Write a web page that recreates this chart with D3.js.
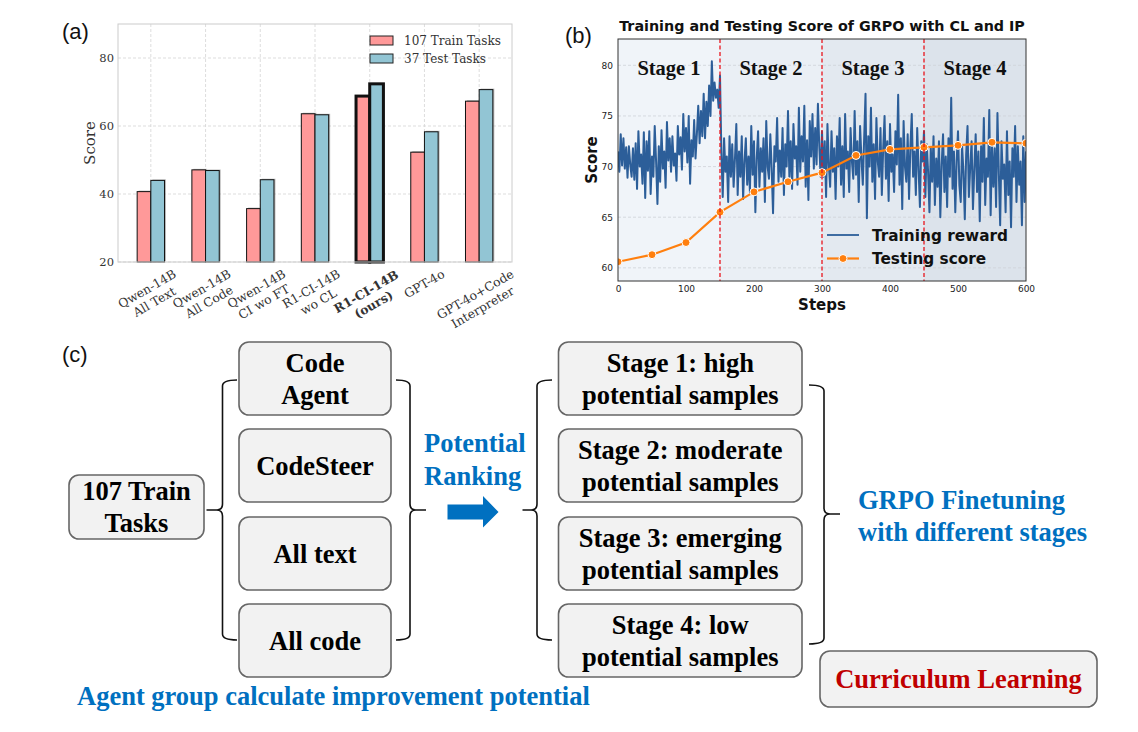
<!doctype html>
<html lang="en">
<head>
<meta charset="utf-8">
<title>R1-CI-14B: scores, GRPO training and curriculum</title>
<style>
html, body {
	margin: 0;
	padding: 0;
	background: #fff;
	overflow: hidden;
}
svg { display: block; }
.serif { font-family: 'DejaVu Serif', serif; }
.sans { font-family: 'DejaVu Sans', sans-serif; }
.times { font-family: 'Liberation Serif', 'Times New Roman', serif; font-weight: bold; }
.panel-tag { font-family: 'Liberation Sans', Arial, sans-serif; font-size: 22px; fill: #111; }
</style>
</head>
<body>
<div id="figure"></div>
<script src="https://cdnjs.cloudflare.com/ajax/libs/d3/7.8.5/d3.min.js"></script>
<script>
/* DATA (a) */
var categories = [
	['Qwen-14B', 'All Text'],
	['Qwen-14B', 'All Code'],
	['Qwen-14B', 'CI wo FT'],
	['R1-CI-14B', 'wo CL'],
	['R1-CI-14B', '(ours)'],
	['GPT-4o'],
	['GPT-4o+Code', 'Interpreter']
];
var trainScores = [40.7, 47.1, 35.7, 63.6, 68.8, 52.3, 67.3];
var testScores = [44.0, 46.9, 44.2, 63.3, 72.4, 58.3, 70.7];
var seriesNames = ['107 Train Tasks', '37 Test Tasks'];
var scoreTicks = [20, 40, 60, 80];
var oursIndex = 4;

/* DATA (b) */
var stageNames = ['Stage 1', 'Stage 2', 'Stage 3', 'Stage 4'];
var stageBounds = [0, 150, 300, 450, 600];
var testSteps = [0, 50, 100, 150, 200, 250, 300, 350, 400, 450, 500, 550, 600];
var testValues = [60.6, 61.3, 62.5, 65.5, 67.5, 68.5, 69.4, 71.1, 71.7, 71.9, 72.1, 72.4, 72.3];
var rewardStep = 2;
var rewardValues = [
	// steps 0..148
	71.5, 69.5, 73.2, 70.1, 72.8, 69.8, 71.9, 68.9, 72.0, 70.2,
	69.0, 71.8, 68.7, 72.3, 67.8, 73.5, 70.0, 71.2, 68.3, 73.4,
	66.9, 72.5, 69.6, 73.5, 67.3, 71.0, 69.0, 74.0, 70.5, 66.3,
	72.0, 68.5, 73.6, 69.8, 71.5, 67.9, 74.4, 70.6, 72.8, 69.5,
	73.0, 70.1, 71.3, 68.6, 74.0, 71.2, 72.9, 69.7, 75.2, 71.5,
	73.8, 70.4, 75.0, 68.3, 72.6, 71.0, 74.6, 70.8, 73.2, 76.0,
	72.3, 75.5, 73.0, 77.2, 72.8, 76.4, 74.0, 78.0, 75.0, 80.4,
	76.5, 78.3, 76.8, 77.6, 75.8,
	// step 150
	79.0,
	// steps 152..298
	71.5, 67.0, 72.8, 69.5, 71.0, 66.5, 73.0, 69.0, 72.2, 68.0,
	70.8, 74.2, 67.2, 71.5, 69.0, 73.0, 66.8, 70.5, 72.8, 68.2,
	71.0, 67.5, 74.0, 69.2, 72.5, 65.5, 70.8, 73.5, 68.0, 71.8,
	69.5, 72.8, 66.5, 74.5, 70.0, 68.8, 73.2, 69.8, 65.4, 72.0,
	70.5, 74.8, 68.5, 71.6, 69.0, 73.8, 67.2, 72.2, 70.0, 75.5,
	69.0, 72.5, 67.8, 74.2, 70.8, 72.0, 68.2, 75.8, 69.5, 73.0,
	70.5, 76.0, 68.0, 72.6, 66.7, 74.5, 71.0, 75.2, 69.8, 73.8,
	70.2, 76.2, 72.0, 69.0,
	// step 300
	73.5,
	// steps 302..448
	69.0, 72.5, 67.0, 74.2, 70.2, 68.0, 73.5, 69.5, 71.8, 66.8,
	73.0, 70.0, 74.8, 68.2, 72.0, 67.0, 75.2, 69.8, 71.5, 67.5,
	73.8, 70.5, 68.8, 75.5, 69.2, 72.5, 66.5, 74.0, 70.8, 68.2,
	72.8, 77.2, 64.9, 73.0, 70.0, 75.8, 68.5, 72.2, 66.8, 74.8,
	70.5, 69.0, 73.8, 67.2, 71.8, 75.0, 68.8, 72.5, 66.6, 74.2,
	69.5, 71.2, 67.5, 73.5, 70.2, 77.1, 68.2, 72.8, 65.8, 74.5,
	70.0, 68.5, 73.2, 66.8, 72.0, 75.2, 69.0, 71.5, 67.2, 73.8,
	69.8, 66.0, 72.5, 70.5,
	// step 450
	73.5,
	// steps 452..600
	67.0, 72.2, 69.5, 65.5, 71.8, 68.5, 73.0, 66.2, 70.8, 68.0,
	72.5, 65.0, 70.2, 73.2, 67.5, 71.0, 66.0, 72.8, 69.0, 76.8,
	67.8, 71.5, 65.5, 70.5, 73.5, 68.2, 66.5, 72.0, 69.5, 64.8,
	71.2, 74.0, 67.0, 70.0, 72.5, 65.8, 69.8, 73.2, 67.5, 71.5,
	64.6, 72.0, 68.5, 74.8, 66.2, 70.8, 69.0, 75.6, 65.2, 72.2,
	68.0, 71.8, 66.0, 75.3, 69.5, 64.2, 72.5, 68.8, 70.2, 65.5,
	73.5, 67.2, 70.5, 64.0, 71.8, 69.0, 74.0, 66.5, 72.0, 68.2,
	70.5, 64.2, 73.0, 66.5, 71.5
];
var stepTicks = [0, 100, 200, 300, 400, 500, 600];
var rewardTicks = [60, 65, 70, 75, 80];
var lineNames = ['Training reward', 'Testing score'];

/* DATA (c) */
var taskLabel = ['107 Train', 'Tasks'];
var agentNames = [['Code', 'Agent'], ['CodeSteer'], ['All text'], ['All code']];
var stageDescs = [
	['Stage 1: high', 'potential samples'],
	['Stage 2: moderate', 'potential samples'],
	['Stage 3: emerging', 'potential samples'],
	['Stage 4: low', 'potential samples']
];
var rankingLabel = ['Potential', 'Ranking'];
var finetuneLabel = ['GRPO Finetuning', 'with different stages'];
var agentCaption = 'Agent group calculate improvement potential';
var curriculumLabel = 'Curriculum Learning';

(function (d3) {
	'use strict';

	var svg = d3.select('#figure').append('svg')
		.attr('width', 1138)
		.attr('height', 732);

	var PINK = '#ff9999';
	var BLUE = '#92c5d4';
	var SKY = '#0070c0';
	var DIAGRAM_FONT = 26.5;

	/* PANEL A */
	var drawBars = function () {
		var left = 118, right = 512, top = 24, bottom = 262;
		var x = d3.scaleLinear().domain([-0.6, 6.6]).range([left, right]);
		var y = d3.scaleLinear().domain([20, 90]).range([bottom, top]);
		var barW = 0.25;
		var g = svg.append('g');

		g.selectAll('line.hgrid').data(scoreTicks).enter().append('line')
			.attr('x1', left).attr('x2', right)
			.attr('y1', function (d) { return y(d); })
			.attr('y2', function (d) { return y(d); })
			.attr('stroke', '#d4d4d4').attr('stroke-width', 0.8)
			.attr('stroke-dasharray', '3,2');
		g.selectAll('line.vgrid').data(categories).enter().append('line')
			.attr('y1', top).attr('y2', bottom)
			.attr('x1', function (d, i) { return x(i); })
			.attr('x2', function (d, i) { return x(i); })
			.attr('stroke', '#d4d4d4').attr('stroke-width', 0.8)
			.attr('stroke-dasharray', '3,2');

		var series = [
			{ values: trainScores, off: -barW, fill: PINK },
			{ values: testScores, off: 0, fill: BLUE }
		];
		series.forEach(function (s) {
			var bars = g.selectAll(null).data(s.values).enter();
			// soft shadow behind each bar
			bars.append('rect')
				.attr('x', function (d, i) { return x(i + s.off) + 1.5; })
				.attr('y', function (d) { return y(d) - 1; })
				.attr('width', x(barW) - x(0))
				.attr('height', function (d) { return y(20) - y(d); })
				.attr('fill', '#777').attr('opacity', 0.5);
			bars.append('rect')
				.attr('x', function (d, i) { return x(i + s.off); })
				.attr('y', function (d) { return y(d); })
				.attr('width', x(barW) - x(0))
				.attr('height', function (d) { return y(20) - y(d); })
				.attr('fill', s.fill)
				.attr('stroke', '#111')
				.attr('stroke-width', function (d, i) { return i === oursIndex ? 3 : 1; });
		});

		g.append('rect')
			.attr('x', left).attr('y', top)
			.attr('width', right - left).attr('height', bottom - top)
			.attr('fill', 'none').attr('stroke', '#cccccc').attr('stroke-width', 1);

		var yAxis = g.append('g')
			.attr('transform', 'translate(' + left + ',0)')
			.call(d3.axisLeft(y).tickValues(scoreTicks).tickSize(0).tickPadding(4));
		yAxis.select('.domain').remove();
		yAxis.selectAll('text')
			.attr('class', 'serif').attr('font-size', 11.5).attr('fill', '#333');

		g.append('text').attr('class', 'serif')
			.attr('transform', 'translate(95,143) rotate(-90)')
			.attr('text-anchor', 'middle').attr('font-size', 15).attr('fill', '#333')
			.text('Score');

		categories.forEach(function (lines, i) {
			var outer = g.append('g');
			var t = outer.append('text').attr('class', 'serif')
				.attr('transform', 'rotate(-30)')
				.attr('text-anchor', 'middle')
				.attr('font-size', 12.3)
				.attr('font-weight', i === oursIndex ? 'bold' : 'normal')
				.attr('fill', '#333');
			lines.forEach(function (line, k) {
				t.append('tspan').attr('x', 0).attr('dy', k === 0 ? 0 : '1.2em').text(line);
			});
			var bb = outer.node().getBBox();
			outer.attr('transform', 'translate(' + (x(i) - bb.x - bb.width / 2) + ',' + (bottom + 5 - bb.y) + ')');
		});

		var legend = g.append('g');
		[PINK, BLUE].forEach(function (c, k) {
			var cy = 40.5 + k * 18;
			legend.append('rect')
				.attr('x', 370).attr('y', cy - 4.5).attr('width', 23).attr('height', 9)
				.attr('fill', c).attr('stroke', '#222').attr('stroke-width', 1);
			legend.append('text').attr('class', 'serif')
				.attr('x', 404).attr('y', cy + 4)
				.attr('font-size', 12).attr('fill', '#333')
				.text(seriesNames[k]);
		});
	};

	/* PANEL B */
	var drawTraining = function () {
		var left = 618, right = 1026, top = 39, bottom = 281;
		var x = d3.scaleLinear().domain([0, 600]).range([left, right]);
		var y = d3.scaleLinear().domain([58.7, 82.6]).range([bottom, top]);
		var stageFills = ['#f0f4f9', '#eaeff5', '#e3e9f0', '#dce3eb'];
		var g = svg.append('g');

		g.selectAll('rect.stage').data(stageNames).enter().append('rect')
			.attr('x', function (d, i) { return x(stageBounds[i]); })
			.attr('y', top)
			.attr('width', function (d, i) { return x(stageBounds[i + 1]) - x(stageBounds[i]); })
			.attr('height', bottom - top)
			.attr('fill', function (d, i) { return stageFills[i]; });

		g.selectAll('line.hgrid').data(rewardTicks).enter().append('line')
			.attr('x1', left).attr('x2', right)
			.attr('y1', function (d) { return y(d); })
			.attr('y2', function (d) { return y(d); })
			.attr('stroke', '#cfd3d8').attr('stroke-width', 0.8)
			.attr('stroke-dasharray', '3,2');

		svg.append('clipPath').attr('id', 'clipB').append('rect')
			.attr('x', left).attr('y', top).attr('width', right - left).attr('height', bottom - top);
		var plot = g.append('g').attr('clip-path', 'url(#clipB)');

		plot.append('path')
			.datum(rewardValues)
			.attr('d', d3.line()
				.x(function (d, i) { return x(i * rewardStep); })
				.y(function (d) { return y(d); }))
			.attr('fill', 'none').attr('stroke', '#2c5e99').attr('stroke-width', 2)
			.attr('stroke-linejoin', 'round');

		g.selectAll('line.stageline').data(stageBounds.slice(1, 4)).enter().append('line')
			.attr('x1', function (d) { return x(d); })
			.attr('x2', function (d) { return x(d); })
			.attr('y1', top).attr('y2', bottom)
			.attr('stroke', '#e8141c').attr('stroke-width', 1.3)
			.attr('stroke-dasharray', '4,2.5');

		var pts = testSteps.map(function (s, i) { return [s, testValues[i]]; });
		plot.append('path')
			.datum(pts)
			.attr('d', d3.line()
				.x(function (d) { return x(d[0]); })
				.y(function (d) { return y(d[1]); }))
			.attr('fill', 'none').attr('stroke', '#ff7f0e').attr('stroke-width', 2.2);
		plot.selectAll('circle').data(pts).enter().append('circle')
			.attr('cx', function (d) { return x(d[0]); })
			.attr('cy', function (d) { return y(d[1]); })
			.attr('r', 4)
			.attr('fill', '#ff7f0e').attr('stroke', '#fff').attr('stroke-width', 1);

		g.selectAll('text.stage').data(stageNames).enter().append('text')
			.attr('class', 'times')
			.attr('x', function (d, i) { return x((stageBounds[i] + stageBounds[i + 1]) / 2); })
			.attr('y', 75)
			.attr('text-anchor', 'middle').attr('font-size', 20.5).attr('fill', '#111')
			.text(function (d) { return d; });

		g.append('rect')
			.attr('x', left).attr('y', top)
			.attr('width', right - left).attr('height', bottom - top)
			.attr('fill', 'none').attr('stroke', '#333').attr('stroke-width', 1);

		var yAxis = g.append('g')
			.attr('transform', 'translate(' + left + ',0)')
			.call(d3.axisLeft(y).tickValues(rewardTicks).tickSize(0).tickPadding(5));
		yAxis.select('.domain').remove();
		yAxis.selectAll('text').attr('class', 'sans').attr('font-size', 9).attr('fill', '#222');

		var xAxis = g.append('g')
			.attr('transform', 'translate(0,' + bottom + ')')
			.call(d3.axisBottom(x).tickValues(stepTicks).tickSize(0).tickPadding(5));
		xAxis.select('.domain').remove();
		xAxis.selectAll('text').attr('class', 'sans').attr('font-size', 9).attr('fill', '#222');

		g.append('text').attr('class', 'sans')
			.attr('x', 822).attr('y', 31)
			.attr('text-anchor', 'middle').attr('font-size', 14.3).attr('font-weight', 'bold').attr('fill', '#111')
			.text('Training and Testing Score of GRPO with CL and IP');
		g.append('text').attr('class', 'sans')
			.attr('transform', 'translate(597,160) rotate(-90)')
			.attr('text-anchor', 'middle').attr('font-size', 15).attr('font-weight', 'bold').attr('fill', '#111')
			.text('Score');
		g.append('text').attr('class', 'sans')
			.attr('x', 822).attr('y', 310)
			.attr('text-anchor', 'middle').attr('font-size', 15).attr('font-weight', 'bold').attr('fill', '#111')
			.text('Steps');

		var legend = g.append('g');
		legend.append('line')
			.attr('x1', 827).attr('x2', 859).attr('y1', 235).attr('y2', 235)
			.attr('stroke', '#2c5e99').attr('stroke-width', 1.8);
		legend.append('line')
			.attr('x1', 827).attr('x2', 859).attr('y1', 258.5).attr('y2', 258.5)
			.attr('stroke', '#ff7f0e').attr('stroke-width', 2.2);
		legend.append('circle')
			.attr('cx', 843).attr('cy', 258.5).attr('r', 4)
			.attr('fill', '#ff7f0e').attr('stroke', '#fff').attr('stroke-width', 1);
		lineNames.forEach(function (n, k) {
			legend.append('text').attr('class', 'sans')
				.attr('x', 872).attr('y', 240.5 + k * 23.5)
				.attr('font-size', 15.3).attr('font-weight', 'bold').attr('fill', '#111')
				.text(n);
		});
	};

	/* PANEL C */
	var box = function (g, bx, by, bw, bh, lines, color) {
		g.append('rect')
			.attr('x', bx).attr('y', by).attr('width', bw).attr('height', bh)
			.attr('rx', 10).attr('ry', 10)
			.attr('fill', '#f2f2f2').attr('stroke', '#666').attr('stroke-width', 1.6);
		var cy = by + bh / 2;
		lines.forEach(function (line, k) {
			var lc = cy + (k - (lines.length - 1) / 2) * 32;
			g.append('text').attr('class', 'times')
				.attr('x', bx + bw / 2).attr('y', lc + 9)
				.attr('text-anchor', 'middle').attr('font-size', DIAGRAM_FONT)
				.attr('fill', color || '#000')
				.text(line);
		});
	};

	// brace: ends at xe, spine at xv, tip at xt
	var brace = function (g, xe, xv, xt, y0, ym, y1) {
		var r = 6;
		var dx = xt < xv ? -1 : 1;
		var p = d3.path();
		p.moveTo(xe, y0);
		p.quadraticCurveTo(xv, y0, xv, y0 + r);
		p.lineTo(xv, ym - r);
		p.quadraticCurveTo(xv, ym, xv + dx * r, ym);
		p.lineTo(xt, ym);
		p.moveTo(xv + dx * r, ym);
		p.quadraticCurveTo(xv, ym, xv, ym + r);
		p.lineTo(xv, y1 - r);
		p.quadraticCurveTo(xv, y1, xe, y1);
		g.append('path').attr('d', p.toString())
			.attr('fill', 'none').attr('stroke', '#111').attr('stroke-width', 1.6);
	};

	var drawDiagram = function () {
		var g = svg.append('g');
		var rowY = [342, 429, 517, 604];
		var rowH = 73;

		box(g, 69, 475, 135, 64, taskLabel);
		agentNames.forEach(function (lines, i) {
			box(g, 239, rowY[i], 152, rowH, lines);
		});
		stageDescs.forEach(function (lines, i) {
			box(g, 558.5, rowY[i], 243.5, rowH, lines);
		});
		box(g, 820, 651, 277, 56, [curriculumLabel], '#c00000');

		brace(g, 237, 222.5, 206.5, 380, 510, 640);
		brace(g, 396, 410, 426, 380, 510, 640);
		brace(g, 552, 537, 522.5, 380, 510, 640);
		brace(g, 809, 824, 840, 385, 514, 644);

		rankingLabel.forEach(function (t, k) {
			g.append('text').attr('class', 'times')
				.attr('x', 424).attr('y', 452 + k * 33)
				.attr('font-size', DIAGRAM_FONT).attr('fill', SKY).text(t);
		});
		finetuneLabel.forEach(function (t, k) {
			g.append('text').attr('class', 'times')
				.attr('x', 858).attr('y', 509 + k * 32)
				.attr('font-size', DIAGRAM_FONT).attr('fill', SKY).text(t);
		});
		g.append('text').attr('class', 'times')
			.attr('x', 77).attr('y', 705)
			.attr('font-size', DIAGRAM_FONT).attr('fill', SKY).text(agentCaption);

		g.append('path')
			.attr('d', 'M447.5,504.5 L483,504.5 L483,496 L498.5,512 L483,527.5 L483,519.5 L447.5,519.5 Z')
			.attr('fill', SKY);
	};

	var drawTags = function () {
		svg.append('text').attr('class', 'panel-tag').attr('x', 62).attr('y', 39).text('(a)');
		svg.append('text').attr('class', 'panel-tag').attr('x', 565).attr('y', 43).text('(b)');
		svg.append('text').attr('class', 'panel-tag').attr('x', 62).attr('y', 362).text('(c)');
	};

	drawBars();
	drawTraining();
	drawDiagram();
	drawTags();
})(window.d3);
</script>
</body>
</html>
